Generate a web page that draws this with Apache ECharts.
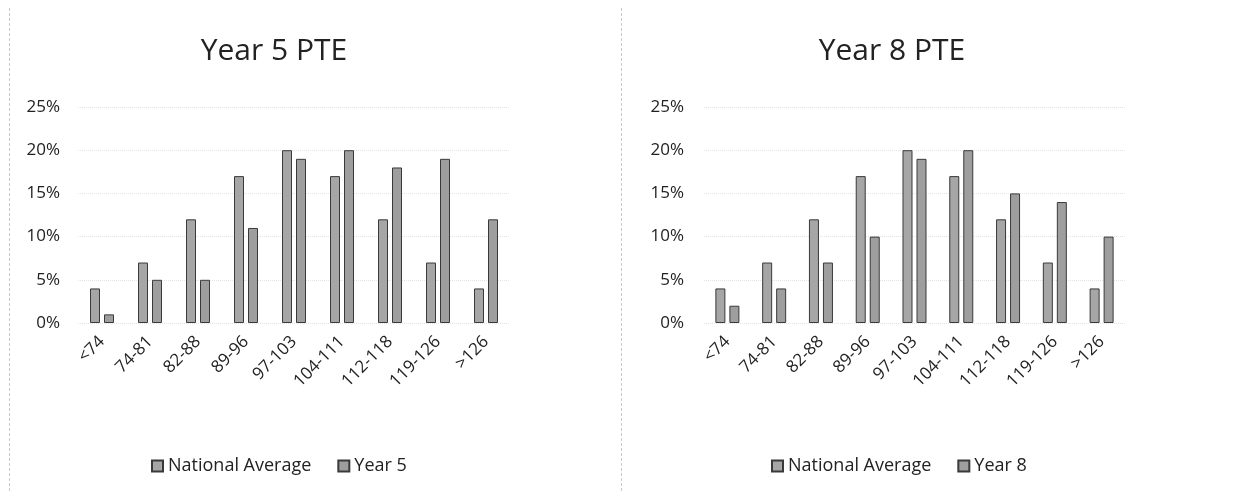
<!DOCTYPE html>
<html>
<head>
<meta charset="utf-8">
<script src="https://cdn.jsdelivr.net/npm/echarts@6/dist/echarts.min.js"></script>
<style>
  html, body { margin: 0; padding: 0; background: #fff; }
  .wrap { position: relative; width: 1241px; height: 491px; }
  .panel { position: absolute; top: 0; height: 491px; }
  #chart5 { left: 0; width: 620px; }
  #chart8 { left: 620px; width: 621px; }
  .edge { position: absolute; top: 8px; height: 483px; border-left: 1px dashed #c8c8c8; }
</style>
</head>
<body>
<div class="wrap">
  <div class="panel" id="chart5"></div>
  <div class="panel" id="chart8"></div>
  <div class="edge" style="left: 9px"></div>
  <div class="edge" style="left: 621px"></div>
</div>
<script>
// score bands
const bands = ['<74', '74-81', '82-88', '89-96', '97-103', '104-111', '112-118', '119-126', '>126']
// percent of students per band
const nationalAvg = [4, 7, 12, 17, 20, 17, 12, 7, 4]
const year5 = [1, 5, 5, 11, 19, 20, 18, 19, 12]
const year8 = [2, 4, 7, 10, 19, 20, 15, 14, 10]
const yTicks = [0, 5, 10, 15, 20, 25]

const font = '"Open Sans", sans-serif'

const barStyle = {
  color: '#a6a6a6',
  borderColor: '#3a3a3a',
  borderWidth: 1
}

const makeOption = (title, yearName, yearData, g) => ({
  animation: false,
  textStyle: { fontFamily: font },
  title: {
    text: title,
    left: g.titleX,
    top: 31,
    textAlign: 'center',
    textStyle: { fontFamily: font, fontSize: 30, fontWeight: 'normal', color: '#222' }
  },
  legend: {
    left: g.legendX,
    top: 452,
    itemWidth: 11,
    itemHeight: 11,
    itemGap: 26,
    icon: 'rect',
    textStyle: { fontFamily: font, fontSize: 18, color: '#222' },
    data: ['National Average', yearName]
  },
  grid: {
    left: g.left,
    right: g.right,
    top: 107,
    bottom: 168
  },
  xAxis: {
    type: 'category',
    data: bands,
    axisLine: { show: false },
    axisTick: { show: false },
    axisLabel: {
      rotate: 45,
      margin: 16,
      fontFamily: font,
      fontSize: 17,
      color: '#222',
      interval: 0
    }
  },
  yAxis: {
    type: 'value',
    min: yTicks[0],
    max: yTicks[yTicks.length - 1],
    interval: 5,
    axisLabel: {
      formatter: '{value}%',
      margin: g.labelMargin,
      fontFamily: font,
      fontSize: 17,
      color: '#222'
    },
    splitLine: { lineStyle: { color: '#e4e4e4', type: 'dotted' } }
  },
  series: [
    {
      name: 'National Average',
      type: 'bar',
      data: nationalAvg,
      barWidth: 10,
      barGap: '40%',
      itemStyle: barStyle
    },
    {
      name: yearName,
      type: 'bar',
      data: yearData,
      barWidth: 10,
      itemStyle: Object.assign({}, barStyle, { color: '#9e9e9e' })
    }
  ]
})

const c5 = echarts.init(document.getElementById('chart5'))
c5.setOption(makeOption('Year 5 PTE', 'Year 5', year5,
  { left: 78, right: 110, titleX: 269, legendX: 146, labelMargin: 18 }))

const c8 = echarts.init(document.getElementById('chart8'))
c8.setOption(makeOption('Year 8 PTE', 'Year 8', year8,
  { left: 84, right: 116, titleX: 267, legendX: 146, labelMargin: 20 }))
</script>
</body>
</html>
